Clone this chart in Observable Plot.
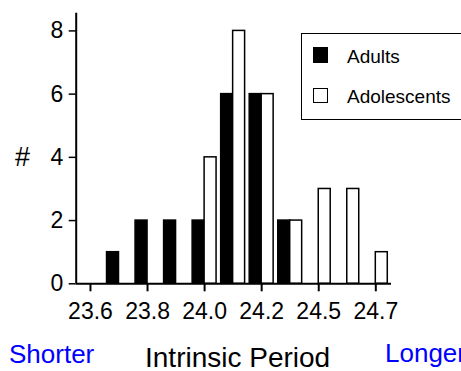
<!DOCTYPE html>
<html>
<head>
<meta charset="utf-8">
<script src="https://cdn.jsdelivr.net/npm/d3@7"></script>
<script src="https://cdn.jsdelivr.net/npm/@observablehq/plot@0.6"></script>
<style>
  html, body { margin: 0; padding: 0; background: white; }
  #wrap { position: relative; width: 461px; height: 371px; overflow: hidden; font-family: "Liberation Sans", Arial, sans-serif; }
  #wrap svg { position: absolute; left: 0; top: 0; }
  .t { position: absolute; line-height: 1; white-space: nowrap; color: black; }
  .sw { position: absolute; box-sizing: border-box; border: 1.5px solid black; }
</style>
</head>
<body>
<div id="wrap"></div>
<script>
// Data
const bins = [23.7, 23.8, 23.9, 24.0, 24.1, 24.2, 24.3, 24.4, 24.5, 24.6];
const adults = [1, 2, 2, 2, 6, 6, 2, 0, 0, 0];
const adolescents = [0, 0, 0, 4, 8, 6, 2, 3, 3, 1];
const xTicks = [23.6, 23.8, 24.0, 24.2, 24.4, 24.6];
const xTickLabels = ["23.6", "23.8", "24.0", "24.2", "24.5", "24.7"];
const yTicks = [0, 2, 4, 6, 8];
const seriesNames = ["Adults", "Adolescents"];

const xDomain = [23.55, 24.655];
const yDomain = [0, 8.56];
const binWidth = 0.1;

const adultRows = bins.map((b, i) => ({bin: b, n: adults[i]})).filter(d => d.n > 0);
const adolRows = bins.map((b, i) => ({bin: b, n: adolescents[i]})).filter(d => d.n > 0);

const chart = Plot.plot({
  width: 461,
  height: 371,
  marginLeft: 75.7,
  marginRight: 70,
  marginTop: 12.7,
  marginBottom: 87.7,
  x: {domain: xDomain},
  y: {domain: yDomain},
  style: {fontFamily: "'Liberation Sans', Arial, sans-serif", fontSize: "23px", color: "black", background: "white"},
  marks: [
    Plot.rectY(adultRows, {x1: d => d.bin - binWidth / 2, x2: "bin", y: "n", insetLeft: 2.3, fill: "black", stroke: "black", strokeWidth: 1.5}),
    Plot.rectY(adolRows, {x1: "bin", x2: d => d.bin + binWidth / 2, y: "n", insetRight: 2.3, fill: "white", stroke: "black", strokeWidth: 1.5}),
    Plot.ruleY([0], {strokeWidth: 2}),
    Plot.ruleX([xDomain[0]], {strokeWidth: 2}),
    Plot.axisY({ticks: yTicks, tickSize: 7, tickPadding: 6, label: null, tickFormat: d => String(d), fontSize: 23, strokeWidth: 1.5}),
    Plot.axisX({ticks: xTicks, tickSize: 8, tickPadding: 11, label: null, tickFormat: d => xTickLabels[xTicks.indexOf(d)], fontSize: 23, strokeWidth: 2})
  ]
});

const wrap = document.getElementById("wrap");
wrap.appendChild(chart);

function addText(txt, left, top, size, color) {
  const s = document.createElement("span");
  s.className = "t";
  s.textContent = txt;
  s.style.left = left + "px";
  s.style.top = top + "px";
  s.style.fontSize = size + "px";
  if (color) s.style.color = color;
  wrap.appendChild(s);
  return s;
}
function addBox(left, top, w, h, fill) {
  const d = document.createElement("div");
  d.className = "sw";
  d.style.left = left + "px";
  d.style.top = top + "px";
  d.style.width = w + "px";
  d.style.height = h + "px";
  d.style.background = fill;
  wrap.appendChild(d);
  return d;
}

// y-axis label
addText("#", 15, 144, 27);
// bottom annotations
addText("Shorter", 9, 341, 26, "#0000ff");
addText("Intrinsic Period", 145, 343.5, 28);
addText("Longer", 385, 340, 26, "#0000ff");

// legend
addBox(301, 33.3, 200, 87, "white");
addBox(312.7, 47.3, 15, 16, "black");
addBox(312.7, 88.3, 15, 15, "white");
addText(seriesNames[0], 347, 46.6, 19);
addText(seriesNames[1], 347, 87.2, 19);
</script>
</body>
</html>
